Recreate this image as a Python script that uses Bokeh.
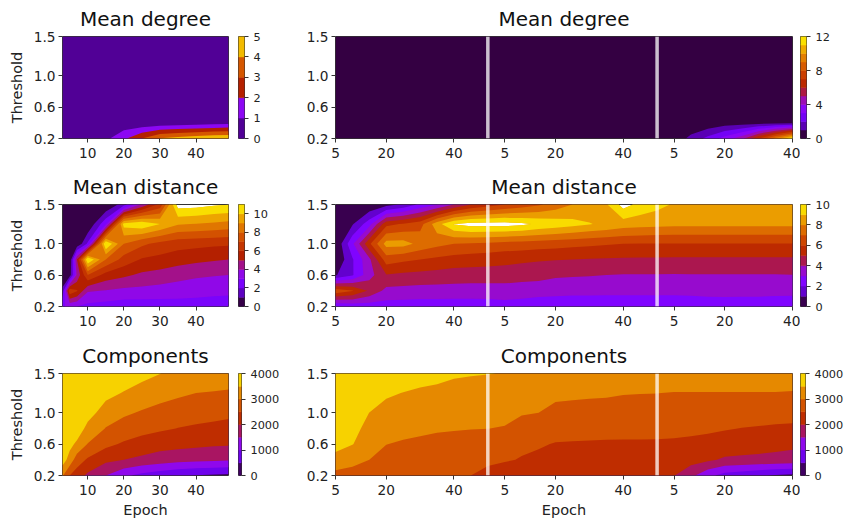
import math
from bokeh.embed import file_html
from bokeh.resources import INLINE
from bokeh.layouts import column, row
from bokeh.models import FixedTicker, Span
from bokeh.plotting import figure

# ---------- shared axes ----------
thresholds = [0.2, 0.4, 0.6, 0.8, 1.0, 1.25, 1.5]
threshold_ticks = [0.2, 0.6, 1.0, 1.5]
threshold_labels = ["0.2", "0.6", "1.0", "1.5"]

epochs = [3, 5, 7, 10, 15, 20, 25, 30, 35, 40, 45, 49]
epoch_ticks = [10, 20, 30, 40]
epoch_labels = ["10", "20", "30", "40"]

steps = list(range(28))
step_ticks = [0, 3, 7, 10, 13, 17, 20, 23, 27]
step_labels = ["5", "20", "40", "5", "20", "40", "5", "20", "40"]
separators = [9, 19]

titles = ["Mean degree", "Mean distance", "Components"]

# ---------- colour bar levels ----------
levels_degree_left = [0, 1, 2, 3, 4, 5]
levels_degree_right = [0, 1, 2, 3, 4, 5, 6, 7, 8, 9, 10, 11, 12]
levels_distance_left = [0, 1, 2, 3, 4, 5, 6, 7, 8, 9, 10, 11]
levels_distance_right = [0, 1, 2, 3, 4, 5, 6, 7, 8, 9, 10]
levels_components = [0, 500, 1000, 1500, 2000, 2500, 3000, 3500, 4000]

ticks_degree_left = [0, 1, 2, 3, 4, 5]
ticks_degree_right = [0, 4, 8, 12]
ticks_distance_left = [0, 2, 4, 6, 8, 10]
ticks_distance_right = [0, 2, 4, 6, 8, 10]
ticks_components = [0, 1000, 2000, 3000, 4000]

# ---------- left column: rows are thresholds, columns are epochs ----------
degree_left = [
    [0.5, 0.5, 0.5, 0.55, 0.75, 1.8, 3.0, 4.05, 4.4, 4.7, 4.9, 4.98],
    [0.02, 0.02, 0.03, 0.04, 0.05, 0.29, 0.22, 0.33, 0.4, 0.47, 0.6, 0.68],
    [0.01, 0.01, 0.01, 0.01, 0.01, 0.02, 0.02, 0.02, 0.03, 0.03, 0.03, 0.03],
    [0.01, 0.01, 0.01, 0.01, 0.01, 0.01, 0.01, 0.01, 0.01, 0.01, 0.01, 0.01],
    [0.01, 0.01, 0.01, 0.01, 0.01, 0.01, 0.01, 0.01, 0.01, 0.01, 0.01, 0.01],
    [0.01, 0.01, 0.01, 0.01, 0.01, 0.01, 0.01, 0.01, 0.01, 0.01, 0.01, 0.01],
    [0.01, 0.01, 0.01, 0.01, 0.01, 0.01, 0.01, 0.01, 0.01, 0.01, 0.01, 0.01],
]
distance_left = [
    [2.9, 3.2, 3.0, 2.7, 2.55, 2.4, 2.4, 2.45, 2.5, 2.5, 2.45, 2.4],
    [1.3, 6.8, 6.1, 4.1, 3.95, 3.75, 3.7, 3.6, 3.5, 3.4, 3.3, 3.25],
    [0.02, 0.4, 4.2, 7.0, 5.6, 5.2, 4.8, 4.6, 4.35, 4.15, 4.05, 4.0],
    [0.02, 0.02, 5.0, 11.02, 8.0, 6.6, 5.9, 5.7, 5.45, 5.25, 5.1, 5.0],
    [0.02, 0.02, 0.02, 2.2, 11.05, 8.0, 7.2, 6.7, 6.4, 6.3, 6.2, 6.15],
    [0.02, 0.02, 0.02, 0.02, 2.8, 10.4, 10.8, 10.0, 9.1, 8.95, 8.8, 8.65],
    [0.02, 0.02, 0.02, 0.02, 0.02, 1.5, 4.2, 6.3, 11.5, 11.4, 11.15, 11.03],
]
components_left = [
    [3050, 2500, 2250, 1900, 1500, 1100, 850, 700, 550, 480, 420, 380],
    [3750, 3300, 2750, 2430, 2120, 2000, 1880, 1760, 1680, 1620, 1580, 1550],
    [3900, 3650, 3400, 2980, 2620, 2440, 2320, 2200, 2160, 2110, 2070, 2050],
    [3950, 3800, 3800, 3350, 2980, 2780, 2650, 2570, 2490, 2430, 2380, 2340],
    [3970, 3900, 3900, 3700, 3270, 3080, 2950, 2840, 2760, 2700, 2650, 2610],
    [3980, 3950, 3960, 3860, 3650, 3470, 3300, 3180, 3080, 3000, 2970, 2940],
    [3990, 3980, 3980, 3960, 3950, 3800, 3650, 3510, 3400, 3340, 3300, 3270],
]

# ---------- right column: rows are thresholds, columns are steps ----------
degree_right = [
    [0.3, 0.3, 0.3, 0.3, 0.3, 0.3, 0.3, 0.3, 0.3, 0.3, 0.3, 0.3, 0.3, 0.3, 0.3, 0.3, 0.3, 0.3, 0.3, 0.3, 0.3, 1.3, 2.3, 3.4, 4.7, 7.0, 9.4, 11.8],
    [0.02, 0.02, 0.02, 0.02, 0.02, 0.02, 0.02, 0.02, 0.02, 0.02, 0.02, 0.02, 0.02, 0.02, 0.02, 0.02, 0.02, 0.02, 0.02, 0.02, 0.02, 0.1, 0.2, 0.45, 0.5, 0.55, 0.6, 0.65],
    [0.01, 0.01, 0.01, 0.01, 0.01, 0.01, 0.01, 0.01, 0.01, 0.01, 0.01, 0.01, 0.01, 0.01, 0.01, 0.01, 0.01, 0.01, 0.01, 0.01, 0.01, 0.01, 0.02, 0.02, 0.02, 0.02, 0.02, 0.02],
    [0.01, 0.01, 0.01, 0.01, 0.01, 0.01, 0.01, 0.01, 0.01, 0.01, 0.01, 0.01, 0.01, 0.01, 0.01, 0.01, 0.01, 0.01, 0.01, 0.01, 0.01, 0.01, 0.01, 0.01, 0.01, 0.01, 0.01, 0.01],
    [0.01, 0.01, 0.01, 0.01, 0.01, 0.01, 0.01, 0.01, 0.01, 0.01, 0.01, 0.01, 0.01, 0.01, 0.01, 0.01, 0.01, 0.01, 0.01, 0.01, 0.01, 0.01, 0.01, 0.01, 0.01, 0.01, 0.01, 0.01],
    [0.01, 0.01, 0.01, 0.01, 0.01, 0.01, 0.01, 0.01, 0.01, 0.01, 0.01, 0.01, 0.01, 0.01, 0.01, 0.01, 0.01, 0.01, 0.01, 0.01, 0.01, 0.01, 0.01, 0.01, 0.01, 0.01, 0.01, 0.01],
    [0.01, 0.01, 0.01, 0.01, 0.01, 0.01, 0.01, 0.01, 0.01, 0.01, 0.01, 0.01, 0.01, 0.01, 0.01, 0.01, 0.01, 0.01, 0.01, 0.01, 0.01, 0.01, 0.01, 0.01, 0.01, 0.01, 0.01, 0.01],
]
distance_right = [
    [2.0, 2.3, 2.4, 2.55, 2.5, 2.45, 2.45, 2.43, 2.45, 2.5, 2.6, 2.5, 2.4, 2.35, 2.3, 2.3, 2.25, 2.25, 2.25, 2.25, 2.25, 2.35, 2.5, 2.7, 2.6, 2.5, 2.4, 2.35],
    [6.7, 6.05, 4.85, 3.7, 3.65, 3.6, 3.6, 3.6, 3.55, 3.55, 3.55, 3.5, 3.4, 3.35, 3.3, 3.3, 3.3, 3.3, 3.3, 3.3, 3.3, 3.3, 3.3, 3.2, 3.25, 3.3, 3.3, 3.3],
    [0.9, 1.9, 3.6, 4.95, 4.8, 4.7, 4.6, 4.5, 4.5, 4.5, 4.5, 4.4, 4.35, 4.15, 4.1, 4.05, 4.0, 3.95, 3.95, 3.95, 3.93, 3.95, 3.95, 3.95, 3.95, 3.95, 3.95, 3.98],
    [0.02, 1.9, 3.8, 6.5, 6.2, 6.0, 5.8, 5.6, 5.5, 5.4, 5.3, 5.2, 5.1, 5.05, 5.0, 4.95, 4.92, 4.88, 4.87, 4.86, 4.85, 4.85, 4.85, 4.85, 4.85, 4.85, 4.85, 4.85],
    [0.02, 2.8, 5.8, 8.4, 8.4, 7.7, 7.3, 7.0, 6.9, 6.8, 6.65, 6.6, 6.5, 6.4, 6.3, 6.2, 6.1, 6.0, 5.98, 5.97, 5.97, 5.97, 5.97, 5.97, 5.97, 5.97, 5.97, 5.97],
    [0.02, 0.9, 2.6, 5.7, 6.1, 6.6, 8.6, 10.05, 10.4, 10.4, 10.4, 10.2, 9.85, 9.6, 9.35, 9.05, 8.8, 8.5, 8.4, 8.3, 8.25, 8.25, 8.25, 8.25, 8.25, 8.25, 8.25, 8.25],
    [0.02, 0.02, 0.1, 0.6, 1.2, 2.2, 2.9, 4.0, 5.0, 5.5, 6.0, 6.4, 6.85, 7.4, 8.0, 8.4, 8.9, 10.4, 9.7, 9.3, 8.9, 8.85, 8.85, 8.85, 8.85, 8.85, 8.85, 8.85],
]
components_right = [
    [2900, 2870, 2850, 2750, 2700, 2650, 2600, 2560, 2500, 2350, 2200, 2100, 2050, 2020, 2020, 2020, 2020, 2020, 2020, 2020, 2020, 1620, 1150, 800, 700, 550, 450, 380],
    [3200, 3100, 3000, 2900, 2870, 2850, 2830, 2800, 2700, 2600, 2550, 2470, 2420, 2350, 2320, 2300, 2300, 2300, 2300, 2300, 2240, 2200, 2080, 1930, 1900, 1880, 1850, 1820],
    [3810, 3520, 3200, 3005, 2970, 2950, 2920, 2900, 2875, 2850, 2680, 2590, 2540, 2480, 2470, 2460, 2450, 2440, 2440, 2440, 2430, 2400, 2340, 2300, 2250, 2200, 2150, 2100],
    [3900, 3650, 3350, 3200, 3080, 3050, 3030, 3020, 3010, 3003, 2980, 2860, 2750, 2650, 2640, 2630, 2630, 2640, 2640, 2630, 2620, 2600, 2580, 2530, 2490, 2460, 2430, 2410],
    [3950, 3800, 3495, 3350, 3300, 3250, 3220, 3200, 3170, 3150, 3100, 3030, 3000, 2880, 2860, 2850, 2840, 2820, 2810, 2800, 2800, 2800, 2790, 2770, 2750, 2730, 2700, 2680],
    [3970, 3900, 3800, 3560, 3490, 3430, 3390, 3340, 3310, 3290, 3270, 3210, 3170, 3100, 3080, 3060, 3050, 3020, 3010, 3005, 2985, 2985, 2985, 2985, 2985, 2985, 2985, 2970],
    [3980, 3960, 3900, 3800, 3750, 3680, 3630, 3560, 3530, 3510, 3490, 3450, 3420, 3370, 3350, 3330, 3310, 3290, 3280, 3270, 3260, 3260, 3260, 3260, 3260, 3260, 3260, 3250],
]


def gnuplot_colour(t):
    r = math.sqrt(t)
    g = t ** 3
    b = max(0.0, math.sin(2 * math.pi * t))
    return "#%02x%02x%02x" % (round(r * 255), round(g * 255), round(b * 255))


def band_colours(levels):
    top = levels[-1]
    return [gnuplot_colour((a + b) / 2 / top) for a, b in zip(levels, levels[1:])]


FONT = "DejaVu Sans"
SPINE = "#333333"
TEXT = "#222222"
FRAME_H = 102
EDGE = 8   # room kept right of a frame so that the last tick label stays centred


def panel(x, z, levels, title, x_range, x_ticks, x_labels, left_column, height, frame_top):
    border_left = 62 if left_column else 53
    frame_width = 166 if left_column else 457
    p = figure(width=border_left + frame_width + EDGE, height=height,
               x_range=x_range, y_range=(thresholds[0], thresholds[-1]),
               output_backend="svg", toolbar_location=None, tools="",
               min_border_left=border_left, min_border_right=EDGE,
               min_border_top=frame_top, min_border_bottom=height - frame_top - FRAME_H)
    p.grid.visible = False
    p.outline_line_color = SPINE
    p.outline_line_width = 1

    # painted from the lowest band upwards; each band runs under the next one, so no seams show
    colours = band_colours(levels)
    for i, colour in enumerate(colours):
        upper = levels[min(i + 2, len(levels) - 1)]
        p.contour(x, thresholds, z, [levels[i], upper], fill_color=[colour])

    p.title.text = title
    p.title.align = "center"
    p.title.text_font = FONT
    p.title.text_font_size = "20px"
    p.title.text_font_style = "normal"
    p.title.text_color = "#111111"
    p.title.vertical_align = "middle"
    p.title.text_baseline = "middle"
    p.title.standoff = 10

    for ax in (p.xaxis[0], p.yaxis[0]):
        ax.major_label_text_font = FONT
        ax.major_label_text_font_size = "13.7px"
        ax.major_label_text_color = TEXT
        ax.axis_line_color = None
        ax.major_tick_line_color = SPINE
        ax.major_tick_in = 0
        ax.major_tick_out = 4
        ax.minor_tick_line_color = None
        ax.axis_label_text_font = FONT
        ax.axis_label_text_font_size = "14.5px"
        ax.axis_label_text_font_style = "normal"
        ax.axis_label_text_color = TEXT

    p.xaxis.ticker = FixedTicker(ticks=x_ticks)
    p.xaxis.major_label_overrides = dict(zip(x_ticks, x_labels))
    p.yaxis.ticker = FixedTicker(ticks=threshold_ticks)
    p.yaxis.major_label_overrides = dict(zip(threshold_ticks, threshold_labels))
    p.xaxis.major_label_standoff = 5
    p.yaxis.major_label_standoff = 3

    if left_column:
        p.yaxis.axis_label = "Threshold"
        p.yaxis.axis_label_standoff = 6
    return p


def colour_bar(levels, ticks, gap, width, height, frame_top):
    b = figure(width=width, height=height, x_range=(0, 1), y_range=(levels[0], levels[-1]),
               output_backend="svg", toolbar_location=None, tools="",
               x_axis_location=None, y_axis_location="right",
               min_border_left=gap, min_border_right=width - gap - 6,
               min_border_top=frame_top, min_border_bottom=height - frame_top - FRAME_H)
    b.grid.visible = False
    b.outline_line_color = SPINE
    b.outline_line_width = 1
    b.quad(left=0, right=1, bottom=levels[:-1], top=levels[1:],
           fill_color=band_colours(levels), line_color=band_colours(levels), line_width=0.5)
    ax = b.yaxis[0]
    ax.ticker = FixedTicker(ticks=ticks)
    ax.axis_line_color = None
    ax.major_tick_line_color = SPINE
    ax.major_tick_in = 0
    ax.major_tick_out = 4
    ax.minor_tick_line_color = None
    ax.major_label_standoff = 5
    ax.major_label_text_font = FONT
    ax.major_label_text_font_size = "11.3px"
    ax.major_label_text_color = TEXT
    return b


x_left = (epochs[0], epochs[-1])
x_right = (steps[0], steps[-1])

rows = []
specs = [
    (0, degree_left, levels_degree_left, ticks_degree_left,
     degree_right, levels_degree_right, ticks_degree_right, 168, 36),
    (1, distance_left, levels_distance_left, ticks_distance_left,
     distance_right, levels_distance_right, ticks_distance_right, 168, 36),
    (2, components_left, levels_components, ticks_components,
     components_right, levels_components, ticks_components, 187, 37),
]
for i, zl, ll, tl, zr, lr, tr, h, top in specs:
    a = panel(epochs, zl, ll, titles[i], x_left, epoch_ticks, epoch_labels, True, h, top)
    c = panel(steps, zr, lr, titles[i], x_right, step_ticks, step_labels, False, h, top)
    for s in separators:
        c.add_layout(Span(location=s, dimension="height", line_color="white",
                          line_alpha=0.75, line_width=3.5))
    if i == 2:
        for f in (a, c):
            f.xaxis.axis_label = "Epoch"
            f.xaxis.axis_label_standoff = 4
    rows.append(row(a, colour_bar(ll, tl, 2, 46, h, top),
                    c, colour_bar(lr, tr, 0, 46, h, top)))

page = column(*rows)
open("out.html", "w").write(file_html(page, INLINE))
